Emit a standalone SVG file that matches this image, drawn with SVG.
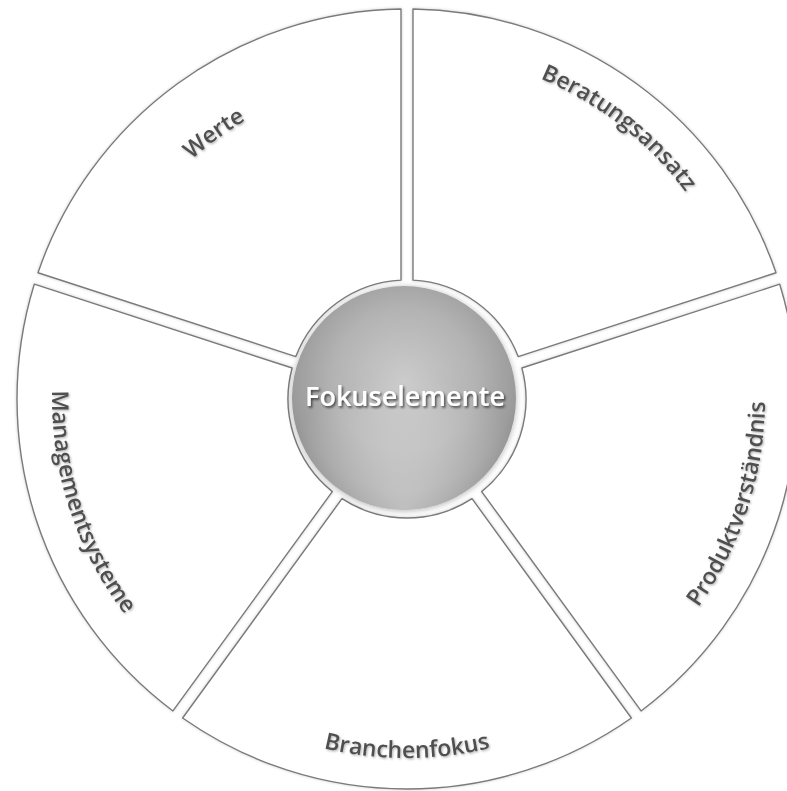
<svg xmlns="http://www.w3.org/2000/svg" width="787" height="791" viewBox="0 0 787 791">
  <defs>
    <filter id="secShadow" x="-10%" y="-10%" width="120%" height="120%">
      <feDropShadow dx="0" dy="0" stdDeviation="1.6" flood-color="#000" flood-opacity="0.2"/>
    </filter>
    <filter id="diskShadow" x="-20%" y="-20%" width="140%" height="140%">
      <feDropShadow dx="0" dy="1" stdDeviation="3" flood-color="#000" flood-opacity="0.3"/>
    </filter>
    <filter id="labelShadow" x="-10%" y="-10%" width="120%" height="120%">
      <feDropShadow dx="1" dy="1.2" stdDeviation="1" flood-color="#000" flood-opacity="0.3"/>
    </filter>
    <filter id="centerShadow" x="-10%" y="-20%" width="120%" height="140%">
      <feDropShadow dx="1.5" dy="1.8" stdDeviation="1.2" flood-color="#2a2a2a" flood-opacity="0.8"/>
    </filter>
    <radialGradient id="diskGrad" cx="50%" cy="42%" r="58%">
      <stop offset="0" stop-color="#cbcbcb"/>
      <stop offset="0.55" stop-color="#b3b3b3"/>
      <stop offset="0.85" stop-color="#9c9c9c"/>
      <stop offset="1" stop-color="#8a8a8a"/>
    </radialGradient>
    <radialGradient id="diskHi" cx="50%" cy="100%" r="60%">
      <stop offset="0" stop-color="#ffffff" stop-opacity="0.45"/>
      <stop offset="1" stop-color="#ffffff" stop-opacity="0"/>
    </radialGradient>
    <path id="pWerte" d="M85.79,376.54 A322,322 0 0 1 484.90,86.56"/>
    <path id="pBeratung" d="M334.85,59.58 A347,347 0 0 1 753.79,386.89"/>
    <path id="pProdukt" d="M541.11,730.93 A358,358 0 0 0 710.60,209.29"/>
    <path id="pBranchen" d="M131.99,629.76 A359,359 0 0 0 681.99,629.76"/>
    <path id="pManagement" d="M105.94,210.88 A355,355 0 0 0 274.01,728.15"/>
  </defs>
  <style>
    .sector { fill: #ffffff; stroke: #7a7a7a; stroke-width: 1.4; stroke-linejoin: round; }
    .label { font-family: "Open Sans", "Noto Sans", "DejaVu Sans", sans-serif; font-size: 23px; font-weight: 600; fill: #505050; }
    .center { font-family: "Open Sans", "Noto Sans", "DejaVu Sans", sans-serif; font-size: 27px; font-weight: 600; fill: #ffffff; }
  </style>
  <rect width="787" height="791" fill="#ffffff"/>

  <g id="connectors"></g>

  <g id="beratungsansatz">
    <path class="sector" filter="url(#secShadow)" d="M413,280.15 L413,9.05 A390,390 0 0 1 776.01,272.79 L518.18,356.57 A119,119 0 0 0 413,280.15 Z"/>
    <text class="label" filter="url(#labelShadow)"><textPath href="#pBeratung" startOffset="50%" text-anchor="middle">Beratungsansatz</textPath></text>
  </g>

  <g id="produktverstaendnis">
    <path class="sector" filter="url(#secShadow)" d="M521.89,367.98 L779.73,284.20 A390,390 0 0 1 641.07,710.95 L481.71,491.62 A119,119 0 0 0 521.89,367.98 Z"/>
    <text class="label" filter="url(#labelShadow)"><textPath href="#pProdukt" startOffset="50%" text-anchor="middle">Produktverständnis</textPath></text>
  </g>

  <g id="branchenfokus">
    <path class="sector" filter="url(#secShadow)" d="M472.01,498.68 L631.36,718.01 A390,390 0 0 1 182.64,718.01 L341.99,498.68 A119,119 0 0 0 472.01,498.68 Z"/>
    <text class="label" filter="url(#labelShadow)"><textPath href="#pBranchen" startOffset="50%" text-anchor="middle">Branchenfokus</textPath></text>
  </g>

  <g id="managementsysteme">
    <path class="sector" filter="url(#secShadow)" d="M332.29,491.62 L172.93,710.95 A390,390 0 0 1 34.27,284.20 L292.11,367.98 A119,119 0 0 0 332.29,491.62 Z"/>
    <text class="label" filter="url(#labelShadow)"><textPath href="#pManagement" startOffset="50%" text-anchor="middle">Managementsysteme</textPath></text>
  </g>

  <g id="werte">
    <path class="sector" filter="url(#secShadow)" d="M295.82,356.57 L37.99,272.79 A390,390 0 0 1 401,9.05 L401,280.15 A119,119 0 0 0 295.82,356.57 Z"/>
    <text class="label" filter="url(#labelShadow)"><textPath href="#pWerte" startOffset="50%" text-anchor="middle">Werte</textPath></text>
  </g>

  <g id="fokuselemente">
    <circle cx="404" cy="398" r="112" fill="url(#diskGrad)" filter="url(#diskShadow)"/>
    <circle cx="404" cy="398" r="112" fill="url(#diskHi)"/>
    <text class="center" x="405" y="406" text-anchor="middle" filter="url(#centerShadow)">Fokuselemente</text>
  </g>
</svg>
